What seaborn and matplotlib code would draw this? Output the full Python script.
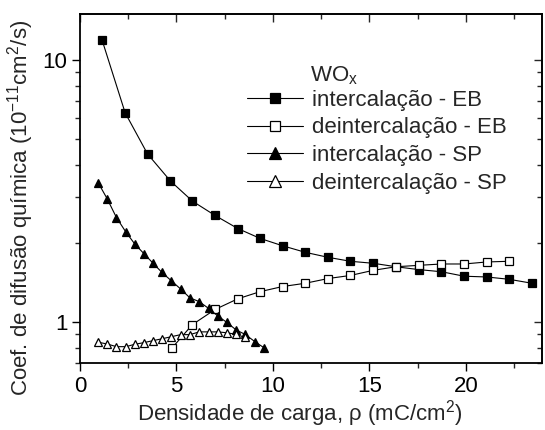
import matplotlib
matplotlib.use("Agg")
import matplotlib.pyplot as plt
import seaborn as sns
import numpy as np
import pandas as pd
from matplotlib.ticker import LogLocator, NullFormatter, FixedLocator, FixedFormatter, MultipleLocator

# ---- data ----
x_int_eb = [1.15, 2.34, 3.50, 4.69, 5.83, 6.99, 8.18, 9.34, 10.50, 11.68, 12.87, 14.02,
            15.21, 16.38, 17.55, 18.74, 19.91, 21.09, 22.24, 23.43]
y_int_eb = [11.9, 6.30, 4.39, 3.46, 2.90, 2.56, 2.28, 2.09, 1.96, 1.85, 1.77, 1.71,
            1.68, 1.63, 1.59, 1.56, 1.50, 1.49, 1.46, 1.41]

x_dei_eb = [4.78, 5.82, 7.00, 8.18, 9.34, 10.50, 11.68, 12.87, 14.02, 15.21, 16.38,
            17.55, 18.74, 19.91, 21.09, 22.24]
y_dei_eb = [0.80, 0.98, 1.12, 1.23, 1.31, 1.37, 1.41, 1.47, 1.51, 1.58, 1.63,
            1.65, 1.67, 1.67, 1.70, 1.71]

x_int_sp = [0.95, 1.41, 1.89, 2.38, 2.84, 3.31, 3.79, 4.25, 4.74, 5.22, 5.70, 6.18,
            6.67, 7.13, 7.61, 8.10, 8.56, 9.06, 9.54]
y_int_sp = [3.40, 2.96, 2.51, 2.21, 1.99, 1.83, 1.68, 1.55, 1.44, 1.34, 1.24, 1.20,
            1.13, 1.06, 1.00, 0.935, 0.90, 0.845, 0.80]

x_dei_sp = [0.95, 1.41, 1.89, 2.38, 2.84, 3.31, 3.79, 4.25, 4.74, 5.22, 5.70, 6.18,
            6.67, 7.13, 7.61, 8.10, 8.56]
y_dei_sp = [0.84, 0.827, 0.808, 0.808, 0.825, 0.837, 0.852, 0.866, 0.882, 0.898, 0.898, 0.92,
            0.92, 0.92, 0.913, 0.90, 0.876]

labels = ["intercalação - EB", "deintercalação - EB", "intercalação - SP", "deintercalação - SP"]
xticks = [0, 5, 10, 15, 20]
yticks = [1, 10]
yticklabels = ["1", "10"]

# ---- style ----
sns.set_theme(style="ticks")
plt.rcParams["font.family"] = ["Liberation Sans", "DejaVu Sans"]
plt.rcParams["mathtext.fontset"] = "custom"
plt.rcParams["mathtext.rm"] = "Liberation Sans"
plt.rcParams["mathtext.it"] = "Liberation Sans:italic"
plt.rcParams["mathtext.default"] = "regular"

FS = 16
fig = plt.figure(figsize=(5.45, 4.30), dpi=100)
ax = fig.add_axes([80/545, (430-363)/430, (542-80)/545, (363-14)/430])

series = [
    (x_int_eb, y_int_eb, "s", "black"),
    (x_dei_eb, y_dei_eb, "s", "white"),
    (x_int_sp, y_int_sp, "^", "black"),
    (x_dei_sp, y_dei_sp, "^", "white"),
]
for (xs, ys, mk, fc), lab in zip(series, labels):
    df = pd.DataFrame({"x": xs, "y": ys})
    sns.lineplot(data=df, x="x", y="y", ax=ax, sort=False, estimator=None,
                 color="black", linewidth=0.8, marker=mk, markersize=6.3 if mk == "^" else 5.5,
                 markerfacecolor=fc, markeredgecolor="black", markeredgewidth=0.9,
                 label=lab)

ax.set_yscale("log")
ax.set_xlim(0, 23.95)
ax.set_ylim(0.70, 15.0)

ax.xaxis.set_major_locator(FixedLocator(xticks))
ax.xaxis.set_minor_locator(MultipleLocator(2.5))
ax.yaxis.set_major_locator(FixedLocator(yticks))
ax.yaxis.set_major_formatter(FixedFormatter(yticklabels))
ax.yaxis.set_minor_locator(LogLocator(base=10, subs=np.arange(2, 10)))
ax.yaxis.set_minor_formatter(NullFormatter())

ax.tick_params(axis="both", which="major", direction="out", length=6, width=1.0,
               labelsize=FS, pad=3, colors="black")
ax.tick_params(axis="both", which="minor", direction="out", length=3.5, width=1.0)
for sp in ax.spines.values():
    sp.set_linewidth(1.3)
    sp.set_color("black")

# mirrored ticks on top/right pointing inward
top = ax.secondary_xaxis("top")
top.xaxis.set_major_locator(FixedLocator(xticks))
top.xaxis.set_minor_locator(MultipleLocator(2.5))
top.tick_params(which="major", direction="in", length=6, width=1.0, labeltop=False)
top.tick_params(which="minor", direction="in", length=3.5, width=1.0)
right = ax.secondary_yaxis("right")
right.yaxis.set_major_locator(FixedLocator(yticks))
right.yaxis.set_minor_locator(LogLocator(base=10, subs=np.arange(2, 10)))
right.tick_params(which="major", direction="in", length=6, width=1.0, labelright=False)
right.tick_params(which="minor", direction="in", length=3.5, width=1.0, labelright=False)
right.yaxis.set_minor_formatter(NullFormatter())
right.yaxis.set_major_formatter(NullFormatter())

ax.set_xlabel("Densidade de carga, ρ (mC/cm$^2$)", fontsize=FS)
ax.set_ylabel("Coef. de difusão química (10$^{-11}$cm$^2$/s)", fontsize=FS)
ax.xaxis.set_label_coords(0.476, -0.102)
ax.yaxis.set_label_coords(-0.095, 0.445)

ax.text(0.497, 0.855, "WO$_x$", transform=ax.transAxes, fontsize=FS, ha="left", va="top")
leg = ax.legend(loc="upper left", bbox_to_anchor=(0.362, 0.783), frameon=False,
                fontsize=FS, handlelength=2.5, handletextpad=0.4, labelspacing=0.3,
                borderpad=0, borderaxespad=0, markerscale=1.4)

fig.savefig("out.png", dpi=100)
